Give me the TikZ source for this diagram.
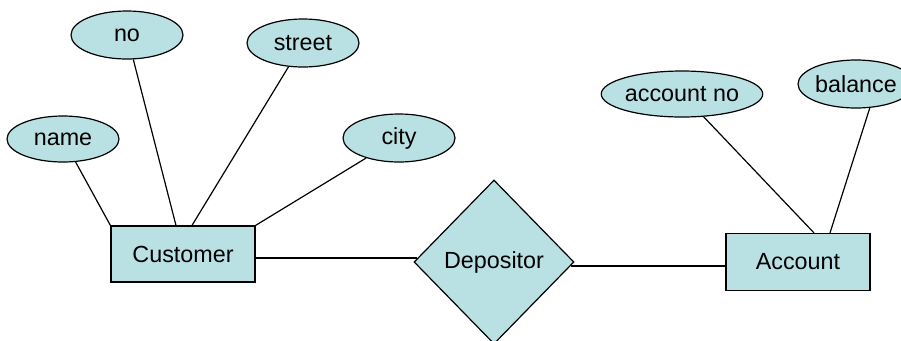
\documentclass[tikz,border=0pt]{standalone}
\usepackage{fontspec}
\setmainfont{Liberation Sans}
\usetikzlibrary{shapes.geometric}
\definecolor{erfill}{RGB}{185,224,227}
\begin{document}
\begin{tikzpicture}[x=0.75pt,y=-0.75pt,
  every node/.style={font=\fontsize{17.5}{20}\selectfont, inner sep=0pt},
  attr/.style={ellipse, draw=black, fill=erfill, line width=0.9pt},
  entity/.style={rectangle, draw=black, fill=erfill, line width=0.9pt},
  rel/.style={diamond, draw=black, fill=erfill, line width=0.9pt},
  link/.style={draw=black, line width=0.9pt}]
\useasboundingbox (0,0) rectangle (901,340);
\clip (0,0) rectangle (901,340);

% entities and the relationship
\node[entity, minimum width=144*0.75pt, minimum height=56*0.75pt] (cust) at (183,254) {Customer};
\node[entity, minimum width=144*0.75pt, minimum height=57*0.75pt] (acct) at (798,262) {Account};
\node[rel, minimum width=160*0.75pt, minimum height=164*0.75pt] (dep) at (494,262) {Depositor};

% attributes
\node[attr, minimum width=112*0.75pt, minimum height=46*0.75pt] (name) at (63,139) {name};
\node[attr, minimum width=112*0.75pt, minimum height=48*0.75pt] (no) at (127,35) {no};
\node[attr, minimum width=112*0.75pt, minimum height=48*0.75pt] (street) at (303,43) {street};
\node[attr, minimum width=112*0.75pt, minimum height=48*0.75pt] (city) at (399,138) {city};
\node[attr, minimum width=152*0.75pt, minimum height=46*0.75pt] (accno) at (682,94) {account no};
\node[attr, minimum width=116*0.75pt, minimum height=48*0.75pt] (bal) at (856,84) {balance};

% attribute links
\draw[link] (name) -- (cust.north west);
\draw[link] (no) -- ([xshift=-7*0.75pt]cust.north);
\draw[link] (street) -- ([xshift=9*0.75pt]cust.north);
\draw[link] (city) -- (cust.north east);
\draw[link] (accno) -- ([xshift=16*0.75pt]acct.north);
\draw[link] (bal.-60) -- ([xshift=32*0.75pt]acct.north);

% relationship links
\draw[link] ([yshift=-4*0.75pt]cust.east) -- ([xshift=4*0.75pt,yshift=4*0.75pt]dep.west);
\draw[link] ([xshift=-4*0.75pt,yshift=-4*0.75pt]dep.east) -- ([yshift=-4*0.75pt]acct.west);
\end{tikzpicture}
\end{document}
